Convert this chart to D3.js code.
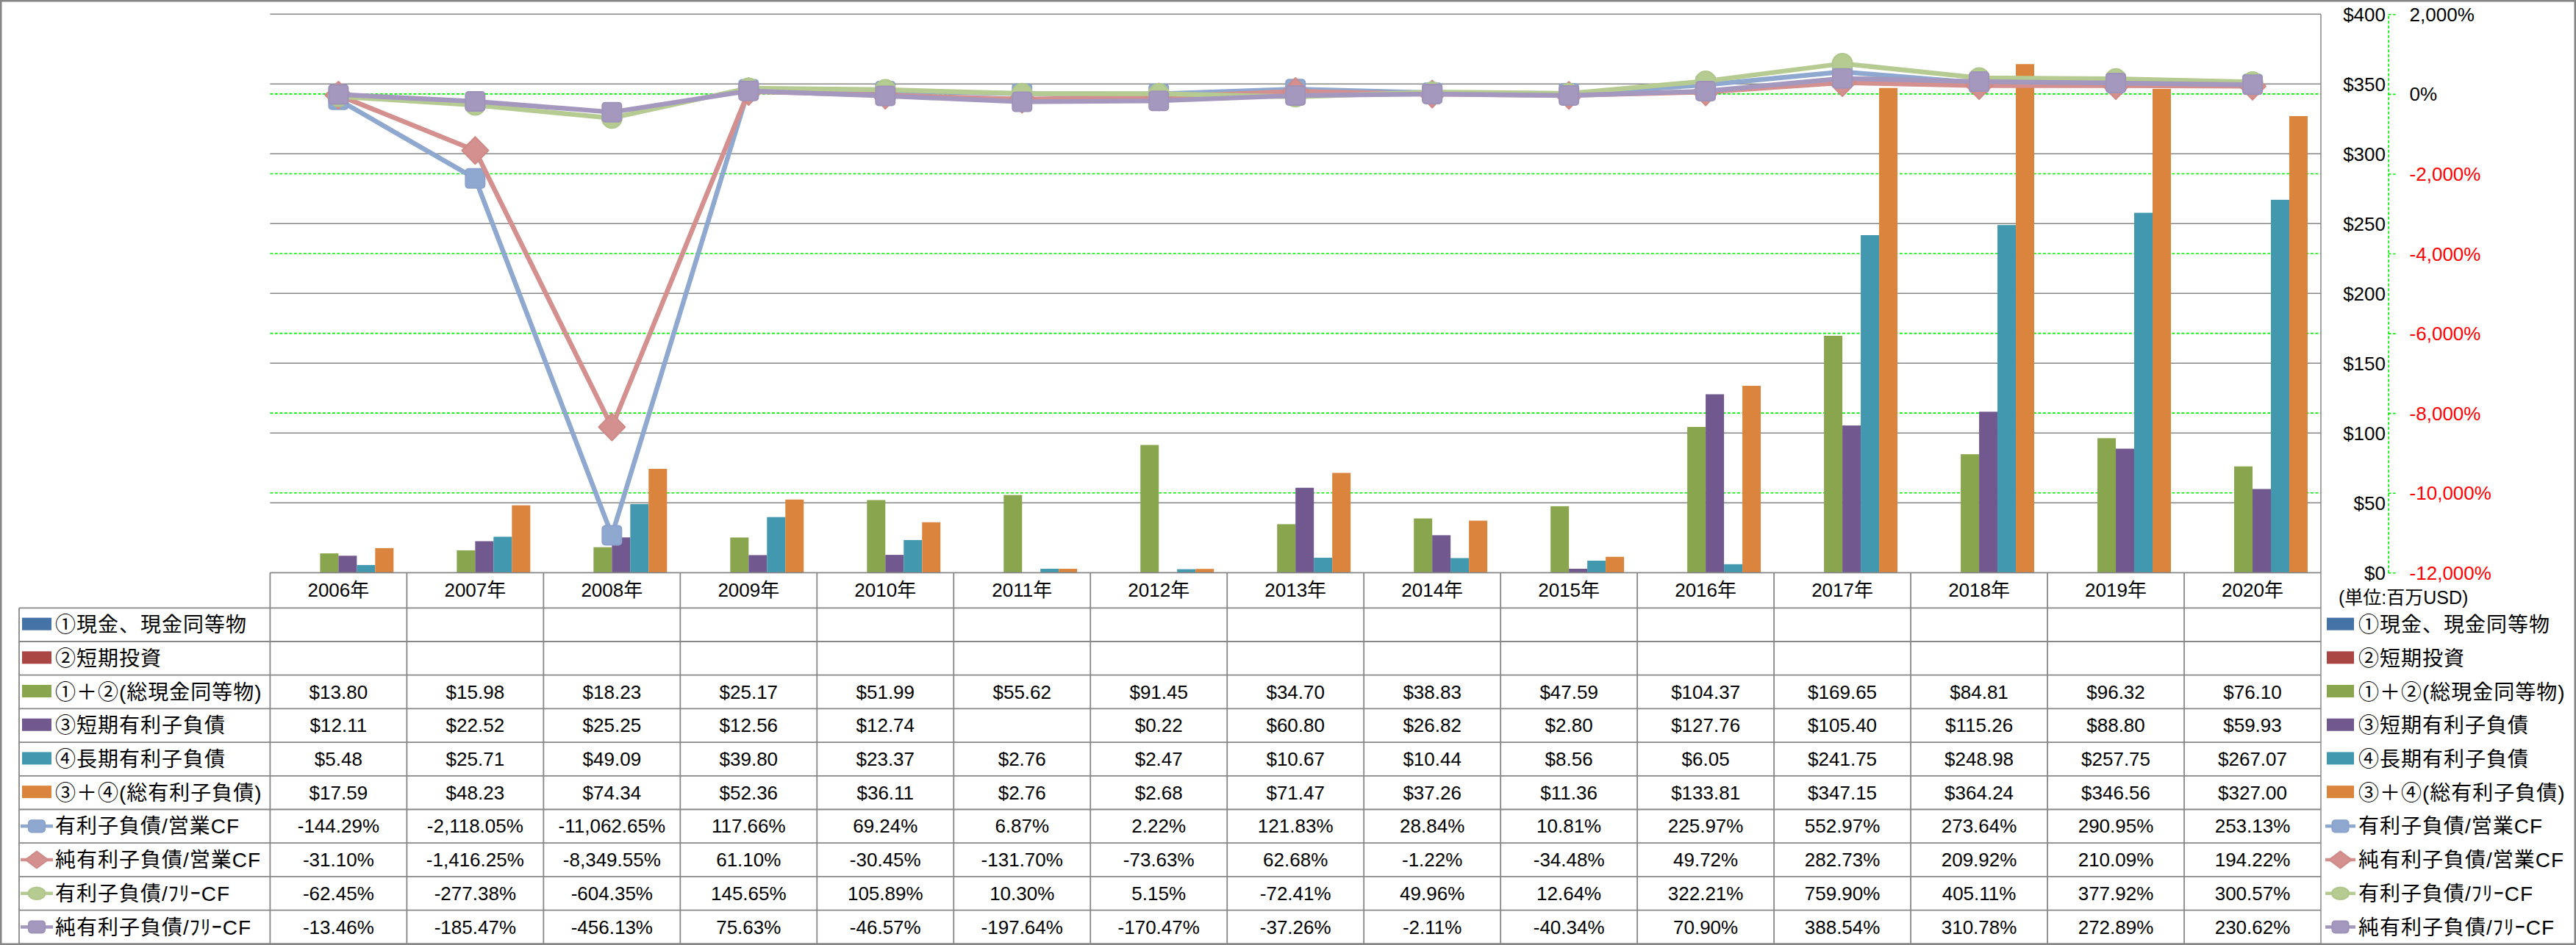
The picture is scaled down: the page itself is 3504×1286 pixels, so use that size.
<!DOCTYPE html>
<html><head><meta charset="utf-8">
<script src="https://cdn.jsdelivr.net/npm/d3@7"></script>
<style>
html,body{margin:0;padding:0;background:#fff;}
svg{display:block;}
text{font-family:"Liberation Sans","Noto Sans CJK JP",sans-serif;}
</style></head><body>
<svg id="chart" width="3504" height="1286"></svg>
<script>
// ---------------- DATA ----------------
const years = ["2006年","2007年","2008年","2009年","2010年","2011年","2012年","2013年","2014年","2015年","2016年","2017年","2018年","2019年","2020年"];
const cash      = [null,null,null,null,null,null,null,null,null,null,null,null,null,null,null];
const shortInv  = [null,null,null,null,null,null,null,null,null,null,null,null,null,null,null];
const totalCash = [13.80,15.98,18.23,25.17,51.99,55.62,91.45,34.70,38.83,47.59,104.37,169.65,84.81,96.32,76.10];
const shortDebt = [12.11,22.52,25.25,12.56,12.74,null,0.22,60.80,26.82,2.80,127.76,105.40,115.26,88.80,59.93];
const longDebt  = [5.48,25.71,49.09,39.80,23.37,2.76,2.47,10.67,10.44,8.56,6.05,241.75,248.98,257.75,267.07];
const totalDebt = [17.59,48.23,74.34,52.36,36.11,2.76,2.68,71.47,37.26,11.36,133.81,347.15,364.24,346.56,327.00];
const debtOpCF     = [-144.29,-2118.05,-11062.65,117.66,69.24,6.87,2.22,121.83,28.84,10.81,225.97,552.97,273.64,290.95,253.13];
const netDebtOpCF  = [-31.10,-1416.25,-8349.55,61.10,-30.45,-131.70,-73.63,62.68,-1.22,-34.48,49.72,282.73,209.92,210.09,194.22];
const debtFreeCF   = [-62.45,-277.38,-604.35,145.65,105.89,10.30,5.15,-72.41,49.96,12.64,322.21,759.90,405.11,377.92,300.57];
const netDebtFreeCF= [-13.46,-185.47,-456.13,75.63,-46.57,-197.64,-170.47,-37.26,-2.11,-40.34,70.90,388.54,310.78,272.89,230.62];

const barNames  = ["①現金、現金同等物","②短期投資","①＋②(総現金同等物)","③短期有利子負債","④長期有利子負債","③＋④(総有利子負債)"];
const lineNames = ["有利子負債/営業CF","純有利子負債/営業CF","有利子負債/ﾌﾘｰCF","純有利子負債/ﾌﾘｰCF"];
const leftTicks  = [0,50,100,150,200,250,300,350,400];
const rightTicks = [-12000,-10000,-8000,-6000,-4000,-2000,0,2000];
const unitLabel = "(単位:百万USD)";

// ---------------- STYLE / LAYOUT ----------------
const barSeries  = [cash,shortInv,totalCash,shortDebt,longDebt,totalDebt];
const barColors  = ["#4572A7","#AA4643","#89A54E","#71588F","#4198AF","#DB843D"];
const lineSeries = [debtOpCF,netDebtOpCF,debtFreeCF,netDebtFreeCF];
const lineColors = ["#8FA8D0","#D4908E","#B6CB92","#A598BE"];
const lineStroke = ["#8AA2CC","#CF8A88","#AFC68A","#9F92B9"];
const markerTypes= ["square","diamond","circle","square"];

const W=3504,H=1286;
const plotL=367.4, plotR=3157, plotT=19.3, plotB=779.3;
const tableL=26, rowTop=827.3, rowH=45.7, tableB=1284;
const gridColor="#878787";

const loc = d3.formatLocale({decimal:".",thousands:",",grouping:[3],currency:["$",""],minus:"-"});
const fmtMoney = v => v==null ? "" : "$"+loc.format(",.2f")(v);
const fmtPct   = v => v==null ? "" : loc.format(",.2f")(v)+"%";
const fmtTickPct = v => loc.format(",")(v)+"%";

const svg=d3.select("#chart");
svg.append("rect").attr("width",W).attr("height",H).attr("fill","#fff");

const x=d3.scaleBand().domain(years).range([plotL,plotR]);
const bw=x.bandwidth();
const groupW=bw*0.806;
const x1=d3.scaleBand().domain(d3.range(barSeries.length)).range([0,groupW]);
const yL=d3.scaleLinear().domain([0,400]).range([plotB,plotT]);
const yR=d3.scaleLinear().domain([-12000,2000]).range([plotB,plotT]);
const cx = i => x(years[i])+bw/2;

// green dashed secondary gridlines
svg.append("g").selectAll("line").data(rightTicks.filter(v=>v>-12000&&v<2000)).join("line")
  .attr("x1",plotL).attr("x2",plotR).attr("y1",d=>yR(d)).attr("y2",d=>yR(d))
  .attr("stroke","#00ee00").attr("stroke-width",1.6).attr("stroke-dasharray","4,2.5");
// gray primary gridlines
svg.append("g").selectAll("line").data(leftTicks.filter(v=>v>0)).join("line")
  .attr("x1",plotL).attr("x2",plotR).attr("y1",d=>yL(d)).attr("y2",d=>yL(d))
  .attr("stroke",gridColor).attr("stroke-width",1.5);

// bars
const barG=svg.append("g");
barSeries.forEach((s,si)=>{
  barG.append("g").selectAll("rect").data(s.map((v,i)=>({v,i})).filter(d=>d.v!=null)).join("rect")
    .attr("x",d=>x(years[d.i])+(bw-groupW)/2+x1(si))
    .attr("width",x1.bandwidth())
    .attr("y",d=>yL(d.v)).attr("height",d=>yL(0)-yL(d.v))
    .attr("fill",barColors[si]);
});

// right plot border
svg.append("line").attr("x1",plotR).attr("x2",plotR).attr("y1",plotT).attr("y2",tableB)
  .attr("stroke",gridColor).attr("stroke-width",1.5);

// marker helper
function marker(g,type,px,py,color,stroke,sx,sy){
  if(type==="square"){
    g.append("rect").attr("x",px-13*sx).attr("y",py-13*sy).attr("width",26*sx).attr("height",26*sy)
      .attr("rx",4).attr("fill",color).attr("stroke",stroke).attr("stroke-width",2);
  } else if(type==="diamond"){
    g.append("path").attr("d",`M${px},${py-18.5*sy}L${px+18*sx},${py}L${px},${py+18.5*sy}L${px-18*sx},${py}Z`)
      .attr("fill",color).attr("stroke",stroke).attr("stroke-width",2).attr("stroke-linejoin","round");
  } else {
    g.append("ellipse").attr("cx",px).attr("cy",py).attr("rx",13.5*sx).attr("ry",13.5*sy)
      .attr("fill",color).attr("stroke",stroke).attr("stroke-width",2);
  }
}

// lines
const lineGen=d3.line().x((d,i)=>cx(i)).y(d=>yR(d));
lineSeries.forEach((s,si)=>{
  const g=svg.append("g");
  g.append("path").attr("d",lineGen(s)).attr("fill","none").attr("stroke",lineColors[si])
    .attr("stroke-width",6.5).attr("stroke-linejoin","round");
  s.forEach((v,i)=>marker(g,markerTypes[si],cx(i),yR(v),lineColors[si],lineStroke[si],1,1));
});

// primary axis labels (right side)
const axL=d3.axisLeft(yL).tickValues(leftTicks).tickSize(0).tickPadding(4).tickFormat(v=>"$"+v);
const gL=svg.append("g").attr("transform","translate(3249,0)").call(axL);
gL.select(".domain").remove();
gL.selectAll("text").attr("font-size",26).attr("font-family",null).attr("fill","#000").attr("dy","0.35em");

// secondary axis
const axR=d3.axisRight(yR).tickValues(rightTicks).tickSize(10).tickSizeOuter(0).tickPadding(19).tickFormat(fmtTickPct);
const gR=svg.append("g").attr("transform","translate(3248.6,0)").call(axR);
gR.select(".domain").attr("stroke","#00ee00").attr("stroke-width",1.6).attr("stroke-dasharray","4,2.5");
gR.selectAll(".tick line").attr("stroke","#00ee00").attr("stroke-width",1.6).attr("stroke-dasharray","4,2.5");
gR.selectAll("text").attr("font-size",26).attr("font-family",null).attr("dy","0.35em")
  .attr("fill",d=>d<0?"#ff0000":"#000");

svg.append("text").attr("x",3181).attr("y",813).attr("dy","0.35em").attr("font-size",25).text(unitLabel);

// ---------------- DATA TABLE ----------------
const tG=svg.append("g");
const nRows=barNames.length+lineNames.length;
// horizontal lines
tG.append("line").attr("x1",plotL).attr("x2",plotR).attr("y1",plotB).attr("y2",plotB).attr("stroke",gridColor).attr("stroke-width",1.8);
d3.range(nRows+1).forEach(r=>{
  tG.append("line").attr("x1",tableL).attr("x2",plotR).attr("y1",rowTop+r*rowH).attr("y2",rowTop+r*rowH)
    .attr("stroke",gridColor).attr("stroke-width",1.8);
});
// vertical lines
years.forEach(yv=>{
  tG.append("line").attr("x1",x(yv)).attr("x2",x(yv)).attr("y1",plotB).attr("y2",tableB).attr("stroke",gridColor).attr("stroke-width",1.8);
});
tG.append("line").attr("x1",tableL).attr("x2",tableL).attr("y1",rowTop).attr("y2",tableB).attr("stroke",gridColor).attr("stroke-width",1.8);

// year headers
tG.selectAll("text.yr").data(years).join("text").attr("class","yr")
  .attr("x",d=>x(d)+bw/2).attr("y",(plotB+rowTop)/2).attr("dy","0.35em")
  .attr("text-anchor","middle").attr("font-size",26).text(d=>d);

// cell values
const rows=[...barSeries.map(s=>s.map(fmtMoney)),...lineSeries.map(s=>s.map(fmtPct))];
rows.forEach((r,ri)=>{
  tG.append("g").selectAll("text").data(r).join("text")
    .attr("x",(d,i)=>cx(i)).attr("y",rowTop+rowH*(ri+0.5)).attr("dy","0.35em")
    .attr("text-anchor","middle").attr("font-size",26).text(d=>d);
});

// legends (left in table, right beside)
function legend(keyX,keyW,textX){
  const g=svg.append("g");
  barNames.forEach((n,i)=>{
    const cy=rowTop+rowH*(i+0.5);
    g.append("rect").attr("x",keyX).attr("y",cy-9.5).attr("width",keyW).attr("height",17).attr("fill",barColors[i]);
    g.append("text").attr("x",textX).attr("y",cy).attr("dy","0.36em").attr("font-size",28).attr("letter-spacing",1).text(n);
  });
  lineNames.forEach((n,i)=>{
    const cy=rowTop+rowH*(barNames.length+i+0.5);
    g.append("line").attr("x1",keyX-2).attr("x2",keyX+keyW+2).attr("y1",cy).attr("y2",cy)
      .attr("stroke",lineColors[i]).attr("stroke-width",4.5);
    marker(g,markerTypes[i],keyX+keyW/2,cy,lineColors[i],lineStroke[i],0.85,0.62);
    g.append("text").attr("x",textX).attr("y",cy).attr("dy","0.36em").attr("font-size",28).attr("letter-spacing",1).text(n);
  });
}
legend(30,40,75);
legend(3165,37,3208);

// outer border
svg.append("rect").attr("x",1.25).attr("y",1.25).attr("width",W-2.5).attr("height",H-2.5)
  .attr("fill","none").attr("stroke","#868686").attr("stroke-width",2.5);
</script>
</body></html>
